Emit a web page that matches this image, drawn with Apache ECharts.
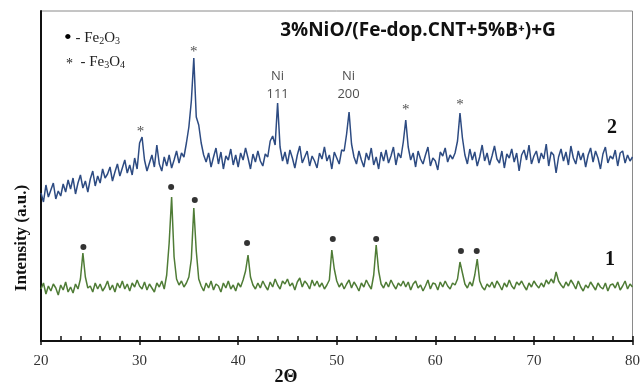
<!DOCTYPE html>
<html>
<head>
<meta charset="utf-8">
<script src="https://cdn.jsdelivr.net/npm/echarts@6/dist/echarts.min.js"></script>
<style>
  html, body { margin: 0; padding: 0; background: #fff; }
  #chart { width: 643px; height: 388px; }
</style>
</head>
<body>
<div id="chart"></div>
<script>
// 2θ scan, read every 0.25°
const angleStart = 20;
const angleStep = 0.25;

// curve 2 (blue, top)
const sample2 = [
  148, 139, 156, 144, 151, 158, 142, 150, 145, 157, 149, 161, 152, 163, 147, 158,
  166, 153, 160, 149, 162, 170, 155, 165, 158, 172, 163, 167, 174, 160, 169, 177,
  165, 173, 181, 168, 176, 166, 183, 172, 198, 204, 181, 170, 178, 186, 174, 196,
  177, 170, 184, 175, 186, 173, 181, 190, 178, 188, 184, 198, 214, 240, 283, 224,
  216, 198, 186, 179, 188, 174, 184, 193, 177, 189, 172, 185, 181, 192, 176, 186,
  174, 188, 181, 193, 183, 172, 187, 179, 190, 180, 175, 187, 184, 200, 205, 196,
  238, 194, 180, 189, 177, 191, 183, 173, 186, 195, 178, 184, 190, 175, 185, 180,
  173, 188, 182, 194, 180, 186, 172, 189, 183, 177, 191, 190, 207, 229, 197, 184,
  177, 190, 181, 174, 188, 181, 193, 176, 184, 172, 189, 180, 191, 178, 185, 194,
  176, 188, 183, 199, 221, 194, 181, 188, 174, 190, 182, 177, 186, 194, 175, 183,
  180, 171, 189, 185, 193, 179, 186, 182, 188, 200, 228, 203, 186, 177, 192, 181,
  189, 175, 184, 196, 180, 188, 176, 185, 195, 182, 178, 190, 173, 187, 183, 192,
  179, 188, 170, 186, 191, 181, 196, 177, 185, 190, 178, 188, 182, 197, 175, 189,
  186, 168, 184, 192, 180, 189, 176, 195, 183, 177, 190, 181, 188, 174, 186, 193,
  179, 190, 183, 172, 187, 194, 178, 185, 182, 191, 175, 188, 190, 178, 186, 180,
  184
];

// curve 1 (green, bottom)
const sample1 = [
  52, 58, 47, 55, 50, 57, 53, 46, 56, 51, 59, 49, 54, 48, 57, 52,
  62, 88, 64, 53, 55, 49, 58, 52, 57, 50, 54, 60, 51, 56, 49, 58,
  53, 60, 52, 57, 50, 58, 54, 61, 55, 52, 59, 51, 57, 53, 49, 58,
  54, 60, 52, 66, 98, 144, 84, 62, 56, 60, 54, 58, 64, 82, 133, 90,
  62, 55, 50, 58, 53, 60, 51, 57, 55, 49, 58, 53, 60, 52, 56, 50,
  58, 54, 61, 70, 86, 64, 56, 52, 58, 53, 60, 55, 51, 59, 54, 62,
  56, 52, 60, 57, 62, 55, 58, 51, 59, 63, 54, 60, 57, 52, 61, 55,
  60, 54, 58, 52, 56, 61, 91, 72, 60, 54, 58, 52, 57, 61, 53, 59,
  55, 50, 58, 54, 61, 56, 52, 66, 96, 70, 57, 53, 59, 54, 61, 56,
  52, 58, 55, 60, 54, 59, 51, 57, 60, 53, 56, 50, 55, 61, 52, 58,
  57, 51, 59, 54, 60, 55, 52, 58, 56, 62, 79, 68, 57, 53, 59, 55,
  66, 82, 60, 54, 51, 57, 54, 59, 53, 60, 56, 51, 58, 54, 61, 55,
  52, 59, 56, 60, 55, 51, 58, 54, 60, 56, 53, 58, 54, 61, 57, 62,
  58, 69, 60, 56, 53, 59, 55, 61, 57, 52, 60, 54, 50, 56, 53, 59,
  55, 51, 58, 54, 52, 58, 50, 56, 57, 53, 59, 51, 55, 60, 52, 57,
  54
];

// phase markers
const fe2o3Angles = [24.3, 33.2, 35.6, 40.9, 49.6, 54.0, 62.6, 64.2];
const fe2o3Levels = [94, 154, 141, 98, 102, 102, 90, 90];
const fe3o4Angles = [30.1, 35.5, 57.0, 62.5];
const fe3o4Levels = [212, 292, 234, 239];
const niAngles = [44.0, 51.2];
const niLevels = [256, 256];
const niLabels = ['Ni\n111', 'Ni\n200'];

const xTicks = [20, 30, 40, 50, 60, 70, 80];

const toPairs = arr => arr.map((v, i) => [angleStart + i * angleStep, v]);

const chart = echarts.init(document.getElementById('chart'));
const serif = '"Liberation Serif", "DejaVu Serif", serif';

chart.setOption({
  animation: false,
  grid: { left: 41, right: 8, top: 11, bottom: 47, show: true, borderColor: '#8a8a8a', borderWidth: 1 },
  xAxis: [
    {
      type: 'value', min: xTicks[0], max: xTicks[xTicks.length - 1], interval: 2,
      axisLine: { lineStyle: { color: '#111', width: 2 } },
      axisTick: { inside: true, length: 5, lineStyle: { color: '#111', width: 1.5 } },
      axisLabel: { show: false },
      splitLine: { show: false },
    },
    {
      type: 'value', min: xTicks[0], max: xTicks[xTicks.length - 1], interval: 10,
      position: 'bottom',
      axisLine: { show: false },
      axisTick: { inside: false, length: 4, lineStyle: { color: '#111', width: 1.5 } },
      axisLabel: { color: '#333', fontFamily: serif, fontSize: 15, margin: 13 },
      splitLine: { show: false },
    },
  ],
  yAxis: {
    type: 'value', min: 0, max: 330,
    axisLine: { show: true, lineStyle: { color: '#111', width: 2 } },
    axisTick: { show: false },
    axisLabel: { show: false },
    splitLine: { show: false },
  },
  series: [
    {
      type: 'line', data: toPairs(sample2), showSymbol: false,
      lineStyle: { color: '#2d4b82', width: 1.5 },
    },
    {
      type: 'line', data: toPairs(sample1), showSymbol: false,
      lineStyle: { color: '#4f7c36', width: 1.5 },
    },
    {
      type: 'scatter', symbol: 'circle', symbolSize: 6,
      itemStyle: { color: '#000' },
      data: fe2o3Angles.map((a, i) => [a, fe2o3Levels[i]]),
    },
    {
      type: 'scatter', symbolSize: 1, itemStyle: { color: 'rgba(0,0,0,0)' },
      label: { show: true, position: 'inside', formatter: '*', color: '#222', fontFamily: serif, fontSize: 15, offset: [0, 3] },
      data: fe3o4Angles.map((a, i) => [a, fe3o4Levels[i]]),
    },
    {
      type: 'scatter', symbolSize: 1, itemStyle: { color: 'rgba(0,0,0,0)' },
      label: {
        show: true, position: 'inside', color: '#222', fontFamily: '"Open Sans", "Noto Sans", sans-serif',
        fontSize: 13, lineHeight: 18,
        formatter: p => niLabels[p.dataIndex],
      },
      data: niAngles.map((a, i) => [a, niLevels[i]]),
    },
  ],
  graphic: [
    {
      type: 'text', x: 418, y: 31,
      style: {
        text: '3%NiO/(Fe-dop.CNT+5%B⁺)+G', align: 'center', verticalAlign: 'middle',
        font: 'bold 19px "Open Sans", "Noto Sans", sans-serif', fill: '#111',
      },
    },
    {
      type: 'text', x: 64, y: 38,
      style: {
        text: '{d|•} - Fe{s|2}O{s|3}', verticalAlign: 'middle', fill: '#222',
        rich: {
          d: { fontSize: 22, fontFamily: serif, fill: '#000' },
          s: { fontSize: 10, fontFamily: serif, padding: [6, 0, 0, 0] },
        },
        font: '15px ' + serif,
      },
    },
    {
      type: 'text', x: 66, y: 62,
      style: {
        text: '{d|*}  - Fe{s|3}O{s|4}', verticalAlign: 'middle', fill: '#222',
        rich: {
          d: { fontSize: 14, fontFamily: serif, padding: [5, 0, 0, 0] },
          s: { fontSize: 10, fontFamily: serif, padding: [6, 0, 0, 0] },
        },
        font: '15px ' + serif,
      },
    },
    {
      type: 'text', x: 612, y: 128,
      style: { text: '2', align: 'center', verticalAlign: 'middle', font: 'bold 20px ' + serif, fill: '#111' },
    },
    {
      type: 'text', x: 610, y: 260,
      style: { text: '1', align: 'center', verticalAlign: 'middle', font: 'bold 20px ' + serif, fill: '#111' },
    },
    {
      type: 'text', x: 286, y: 377,
      style: { text: '2Θ', align: 'center', verticalAlign: 'middle', font: 'bold 18px ' + serif, fill: '#111' },
    },
    {
      type: 'text', x: 22, y: 238, rotation: Math.PI / 2,
      style: { text: 'Intensity (a.u.)', align: 'center', verticalAlign: 'middle', font: 'bold 17px ' + serif, fill: '#111' },
    },
  ],
});
</script>
</body>
</html>
